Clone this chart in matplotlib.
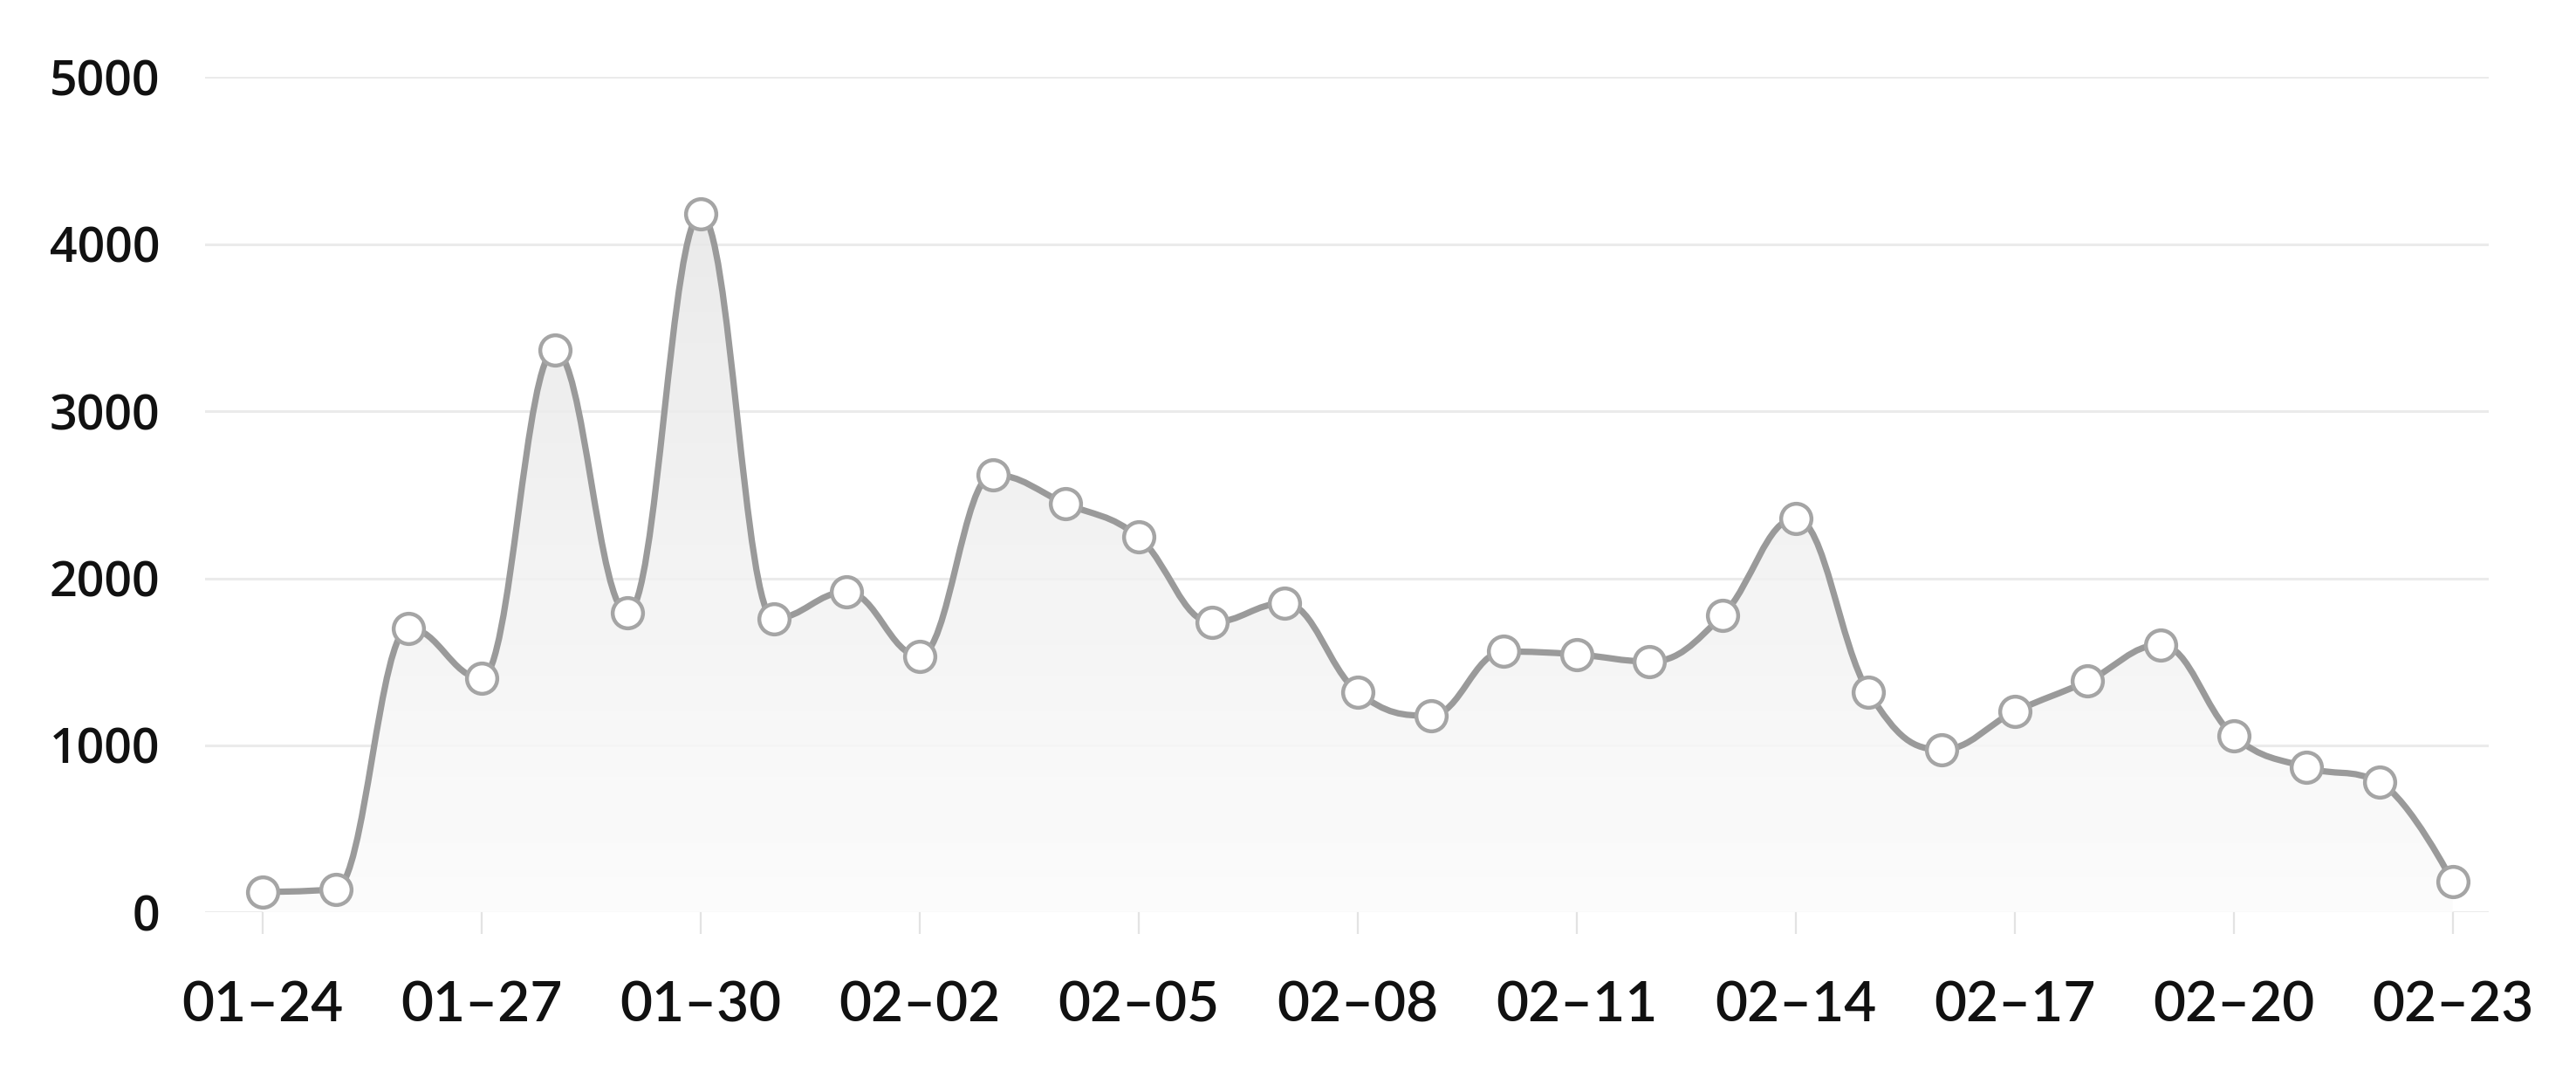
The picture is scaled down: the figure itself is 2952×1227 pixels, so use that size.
import numpy as np
import matplotlib
matplotlib.use("Agg")
import matplotlib.pyplot as plt
from matplotlib.path import Path
from matplotlib.patches import PathPatch
from matplotlib.colors import LinearSegmentedColormap

# daily values, 01-24 .. 02-23
dates = ["01–24", "01–25", "01–26", "01–27", "01–28", "01–29", "01–30", "01–31",
         "02–01", "02–02", "02–03", "02–04", "02–05", "02–06", "02–07", "02–08",
         "02–09", "02–10", "02–11", "02–12", "02–13", "02–14", "02–15", "02–16",
         "02–17", "02–18", "02–19", "02–20", "02–21", "02–22", "02–23"]
values = [123, 140, 1702, 1402, 3364, 1792, 4179, 1759,
          1919, 1535, 2620, 2447, 2246, 1736, 1852, 1320,
          1178, 1562, 1545, 1502, 1779, 2360, 1318, 975,
          1202, 1385, 1602, 1058, 868, 778, 184]
yticks = [0, 1000, 2000, 3000, 4000, 5000]
tick_every = 3

LINE = "#9a9a9a"
GRID = "#ebebeb"


def spline_path(x, y, smoothing=1.5):
    # highcharts-style spline: bezier segments with control points per node
    n = len(x)
    lc = [None] * n
    rc = [None] * n
    for i in range(n):
        if i == 0 or i == n - 1:
            lc[i] = (x[i], y[i]); rc[i] = (x[i], y[i])
            continue
        px, py = x[i], y[i]
        lx, ly = x[i - 1], y[i - 1]
        nx, ny = x[i + 1], y[i + 1]
        d = smoothing + 1
        lcx = (smoothing * px + lx) / d
        lcy = (smoothing * py + ly) / d
        rcx = (smoothing * px + nx) / d
        rcy = (smoothing * py + ny) / d
        corr = ((rcy - lcy) * (rcx - px)) / (rcx - lcx) + py - rcy
        lcy += corr
        rcy += corr
        if lcy > ly and lcy > py:
            lcy = max(ly, py); rcy = 2 * py - lcy
        elif lcy < ly and lcy < py:
            lcy = min(ly, py); rcy = 2 * py - lcy
        if rcy > ny and rcy > py:
            rcy = max(ny, py); lcy = 2 * py - rcy
        elif rcy < ny and rcy < py:
            rcy = min(ny, py); lcy = 2 * py - rcy
        lc[i] = (lcx, lcy); rc[i] = (rcx, rcy)
    verts = [(x[0], y[0])]
    codes = [Path.MOVETO]
    for i in range(1, n):
        verts += [rc[i - 1], lc[i], (x[i], y[i])]
        codes += [Path.CURVE4] * 3
    return verts, codes


fig = plt.figure(figsize=(29.52, 12.27), dpi=100)
ax = fig.add_axes([0.0796, 0.148, 0.8864, 0.78])

xs = np.arange(len(values))
verts, codes = spline_path(list(xs.astype(float)), [float(v) for v in values])

# gradient fill under the curve
fverts = verts + [(xs[-1], 0), (xs[0], 0), verts[0]]
fcodes = codes + [Path.LINETO, Path.LINETO, Path.CLOSEPOLY]
patch = PathPatch(Path(fverts, fcodes), facecolor="none", edgecolor="none")
ax.add_patch(patch)
cmap = LinearSegmentedColormap.from_list("g", ["#fcfcfc", "#e6e6e6"])
grad = np.linspace(0, 1, 256).reshape(-1, 1)
im = ax.imshow(grad, cmap=cmap, origin="lower", aspect="auto",
               extent=[xs[0], xs[-1], 0, 4400], zorder=1, alpha=0.85)
im.set_clip_path(patch)

ax.add_patch(PathPatch(Path(verts, codes), facecolor="none", edgecolor=LINE,
                       lw=5.2, zorder=3, capstyle="round", joinstyle="round"))
ax.plot(xs, values, ls="none", marker="o", ms=25, mfc="white", mec="#a5a5a5",
        mew=3.2, zorder=4)

ax.set_xlim(-0.79, 30.49)
ax.set_ylim(0, 5000)
ax.set_yticks(yticks)
ax.set_yticklabels([str(t) for t in yticks], fontsize=40, family="Open Sans",
                   fontweight="semibold", color="#111111")
ax.set_xticks(xs[::tick_every])
ax.set_xticklabels(dates[::tick_every], fontsize=46, family="Lato",
                   fontweight="semibold", color="#111111")

for t in yticks:
    ax.axhline(t, color=GRID, lw=2.2, zorder=0)
ax.tick_params(axis="y", length=0, pad=37)
ax.tick_params(axis="x", length=18, width=1.6, color="#e3e3e3", pad=38)
for s in ax.spines.values():
    s.set_visible(False)

fig.savefig("out.png", dpi=100, facecolor="white")
